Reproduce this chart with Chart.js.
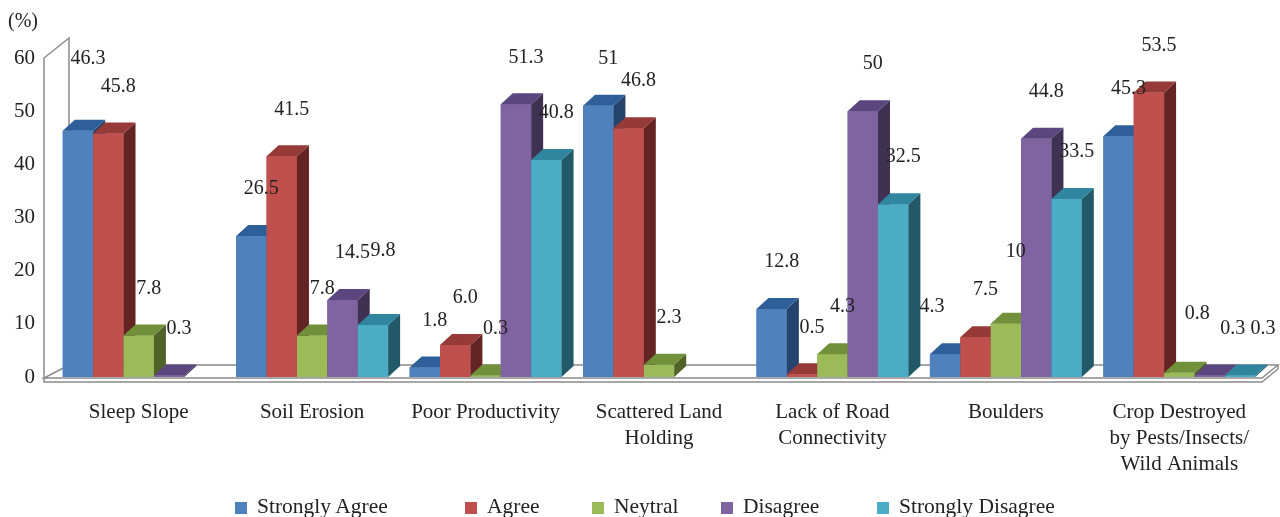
<!DOCTYPE html>
<html lang="en">
<head>
<meta charset="UTF-8">
<title>Land Constraints Survey</title>
<script src="https://cdn.jsdelivr.net/npm/chart.js"></script>
<style>
  body { margin: 0; background: #fff; }
  #wrap { position: relative; width: 1280px; height: 517px; }
  #legend {
    position: absolute; left: 0; top: 494px; width: 1280px; height: 24px;
    font: 21.5px "Liberation Serif", "Times New Roman", serif; color: #222; line-height: 24px;
  }
  #legend div { position: absolute; top: 0; white-space: nowrap; }
  #legend span.box { display: inline-block; width: 12px; height: 12px; margin-right: 10px; vertical-align: -1px; }
</style>
</head>
<body>
<div id="wrap">
  <canvas id="chart" width="1280" height="517"></canvas>
  <div id="legend"></div>
</div>
<script>
const categories = [
  'Sleep Slope',
  'Soil Erosion',
  'Poor Productivity',
  ['Scattered Land', 'Holding'],
  ['Lack of Road', 'Connectivity'],
  'Boulders',
  ['Crop Destroyed', 'by Pests/Insects/', 'Wild Animals']
];
const seriesNames = ['Strongly Agree', 'Agree', 'Neytral', 'Disagree', 'Strongly Disagree'];

const stronglyAgree    = [46.3, 26.5, 1.8, 51, 12.8, 4.3, 45.3];
const agree            = [45.8, 41.5, 6.0, 46.8, 0.5, 7.5, 53.5];
const neutral          = [7.8, 7.8, 0.3, 2.3, 4.3, 10, 0.8];
const disagree         = [0.3, 14.5, 51.3, null, 50, 44.8, 0.3];
const stronglyDisagree = [null, 9.8, 40.8, null, 32.5, 33.5, 0.3];

const yTicks = [0, 10, 20, 30, 40, 50, 60];

// front / top / side shades for each series
const fronts = ['#4f81bd', '#c0504d', '#9bbb59', '#8064a2', '#4bacc6'];
const tops   = ['#2f5f98', '#963a37', '#71903a', '#5c4680', '#2f869e'];
const sides  = ['#24436d', '#632423', '#4f6228', '#3f3151', '#215968'];

const DX = 12, DY = 11;      // bar depth
const FDX = 25, FDY = 13;    // floor / wall depth
const FONT = '"Liberation Serif", "Times New Roman", serif';

// legend item x offsets
const legendLeft = [235, 465, 592, 721, 877];

// a few value labels sit off the usual spot
const labelNudge = {
  '0,0': [0, -25],
  '4,1': [0, -27],
  '2,5': [0, -25],
  '0,5': [-23, 0],
  '2,6': [8, -12],
  '3,6': [13, 0],
  '4,6': [13, 0]
};

function fmt(v) {
  return Number.isInteger(v) && v < 10 ? v.toFixed(1) : String(v);
}

const box3d = {
  id: 'box3d',
  beforeDatasetsDraw(chart) {
    const { ctx, chartArea, scales } = chart;
    const y0 = scales.y.getPixelForValue(0);
    const yTop = scales.y.getPixelForValue(60);
    const fx = chartArea.left - 8;
    const rx = chartArea.right - 4;
    ctx.save();
    ctx.strokeStyle = '#8a8a8a';
    ctx.lineWidth = 1.5;
    // back wall edges
    ctx.beginPath();
    ctx.moveTo(fx, y0 + 1);
    ctx.lineTo(fx, yTop);
    ctx.lineTo(fx + FDX, yTop - 20);
    ctx.lineTo(fx + FDX, y0 - FDY);
    ctx.stroke();
    // floor plate
    ctx.fillStyle = '#fff';
    ctx.beginPath();
    ctx.moveTo(fx, y0 + 1);
    ctx.lineTo(rx, y0 + 1);
    ctx.lineTo(rx + 16, y0 - FDY + 1);
    ctx.lineTo(fx + FDX, y0 - FDY + 1);
    ctx.closePath();
    ctx.fill();
    ctx.stroke();
    ctx.beginPath();
    ctx.moveTo(fx, y0 + 1);
    ctx.lineTo(fx, y0 + 5);
    ctx.lineTo(rx, y0 + 5);
    ctx.lineTo(rx + 16, y0 - FDY + 5);
    ctx.lineTo(rx + 16, y0 - FDY + 1);
    ctx.stroke();
    ctx.restore();

    ctx.save();
    ctx.font = '20px ' + FONT;
    ctx.fillStyle = '#222';
    ctx.textBaseline = 'middle';
    ctx.fillText('(%)', 8, 22);
    ctx.restore();
  },
  afterDatasetsDraw(chart) {
    const { ctx, chartArea } = chart;
    // repaint left to right within each group so that every bar's
    // side face is tucked behind the front of its right neighbour
    chart.data.datasets.forEach((ds, i) => {
      chart.getDatasetMeta(i).data.forEach((bar, j) => {
        if (ds.data[j] == null) return;
        bar.draw(ctx, chartArea);
        const { x, y, base, width } = bar.getProps(['x', 'y', 'base', 'width'], true);
        const l = x - width / 2, r = x + width / 2;
        ctx.save();
        ctx.fillStyle = sides[i];
        ctx.beginPath();
        ctx.moveTo(r, y);
        ctx.lineTo(r + DX, y - DY);
        ctx.lineTo(r + DX, base - DY);
        ctx.lineTo(r, base);
        ctx.closePath();
        ctx.fill();
        ctx.fillStyle = tops[i];
        ctx.beginPath();
        ctx.moveTo(l, y);
        ctx.lineTo(l + DX, y - DY);
        ctx.lineTo(r + DX, y - DY);
        ctx.lineTo(r, y);
        ctx.closePath();
        ctx.fill();
        ctx.restore();
      });
    });

    ctx.save();
    ctx.font = '20px ' + FONT;
    ctx.fillStyle = '#222';
    ctx.textAlign = 'center';
    ctx.textBaseline = 'middle';
    chart.data.datasets.forEach((ds, i) => {
      chart.getDatasetMeta(i).data.forEach((bar, j) => {
        const v = ds.data[j];
        if (v == null) return;
        const n = labelNudge[i + ',' + j] || [0, 0];
        ctx.fillText(fmt(v), bar.x + 10 + n[0], bar.y - 47 + n[1]);
      });
    });
    ctx.restore();
  }
};

const seriesValues = [stronglyAgree, agree, neutral, disagree, stronglyDisagree];

new Chart(document.getElementById('chart'), {
  type: 'bar',
  data: {
    labels: categories,
    datasets: seriesNames.map((name, i) => ({
      label: name,
      data: seriesValues[i],
      backgroundColor: fronts[i],
      borderWidth: 0,
      categoryPercentage: 0.876,
      barPercentage: 1
    }))
  },
  options: {
    responsive: false,
    animation: false,
    layout: { padding: { left: 0, top: 58, right: 14, bottom: 0 } },
    plugins: {
      legend: { display: false },
      tooltip: { enabled: false }
    },
    scales: {
      x: {
        grid: { display: false, drawTicks: false },
        border: { display: false },
        ticks: {
          color: '#222',
          font: { family: FONT, size: 21, lineHeight: 1.24 },
          padding: 22,
          maxRotation: 0,
          autoSkip: false
        },
        afterFit(s) { s.height = 140; }
      },
      y: {
        min: 0,
        max: 60,
        grid: { display: false, drawTicks: false },
        border: { display: false },
        afterBuildTicks(s) { s.ticks = yTicks.map(v => ({ value: v })); },
        ticks: {
          color: '#222',
          font: { family: FONT, size: 21 },
          padding: 17
        },
        afterFit(s) { s.width = 52; }
      }
    }
  },
  plugins: [box3d]
});

// legend row under the chart
const legend = document.getElementById('legend');
seriesNames.forEach((name, i) => {
  const item = document.createElement('div');
  item.style.left = legendLeft[i] + 'px';
  item.innerHTML = '<span class="box" style="background:' + fronts[i] + '"></span>' + name;
  legend.appendChild(item);
});
</script>
</body>
</html>
